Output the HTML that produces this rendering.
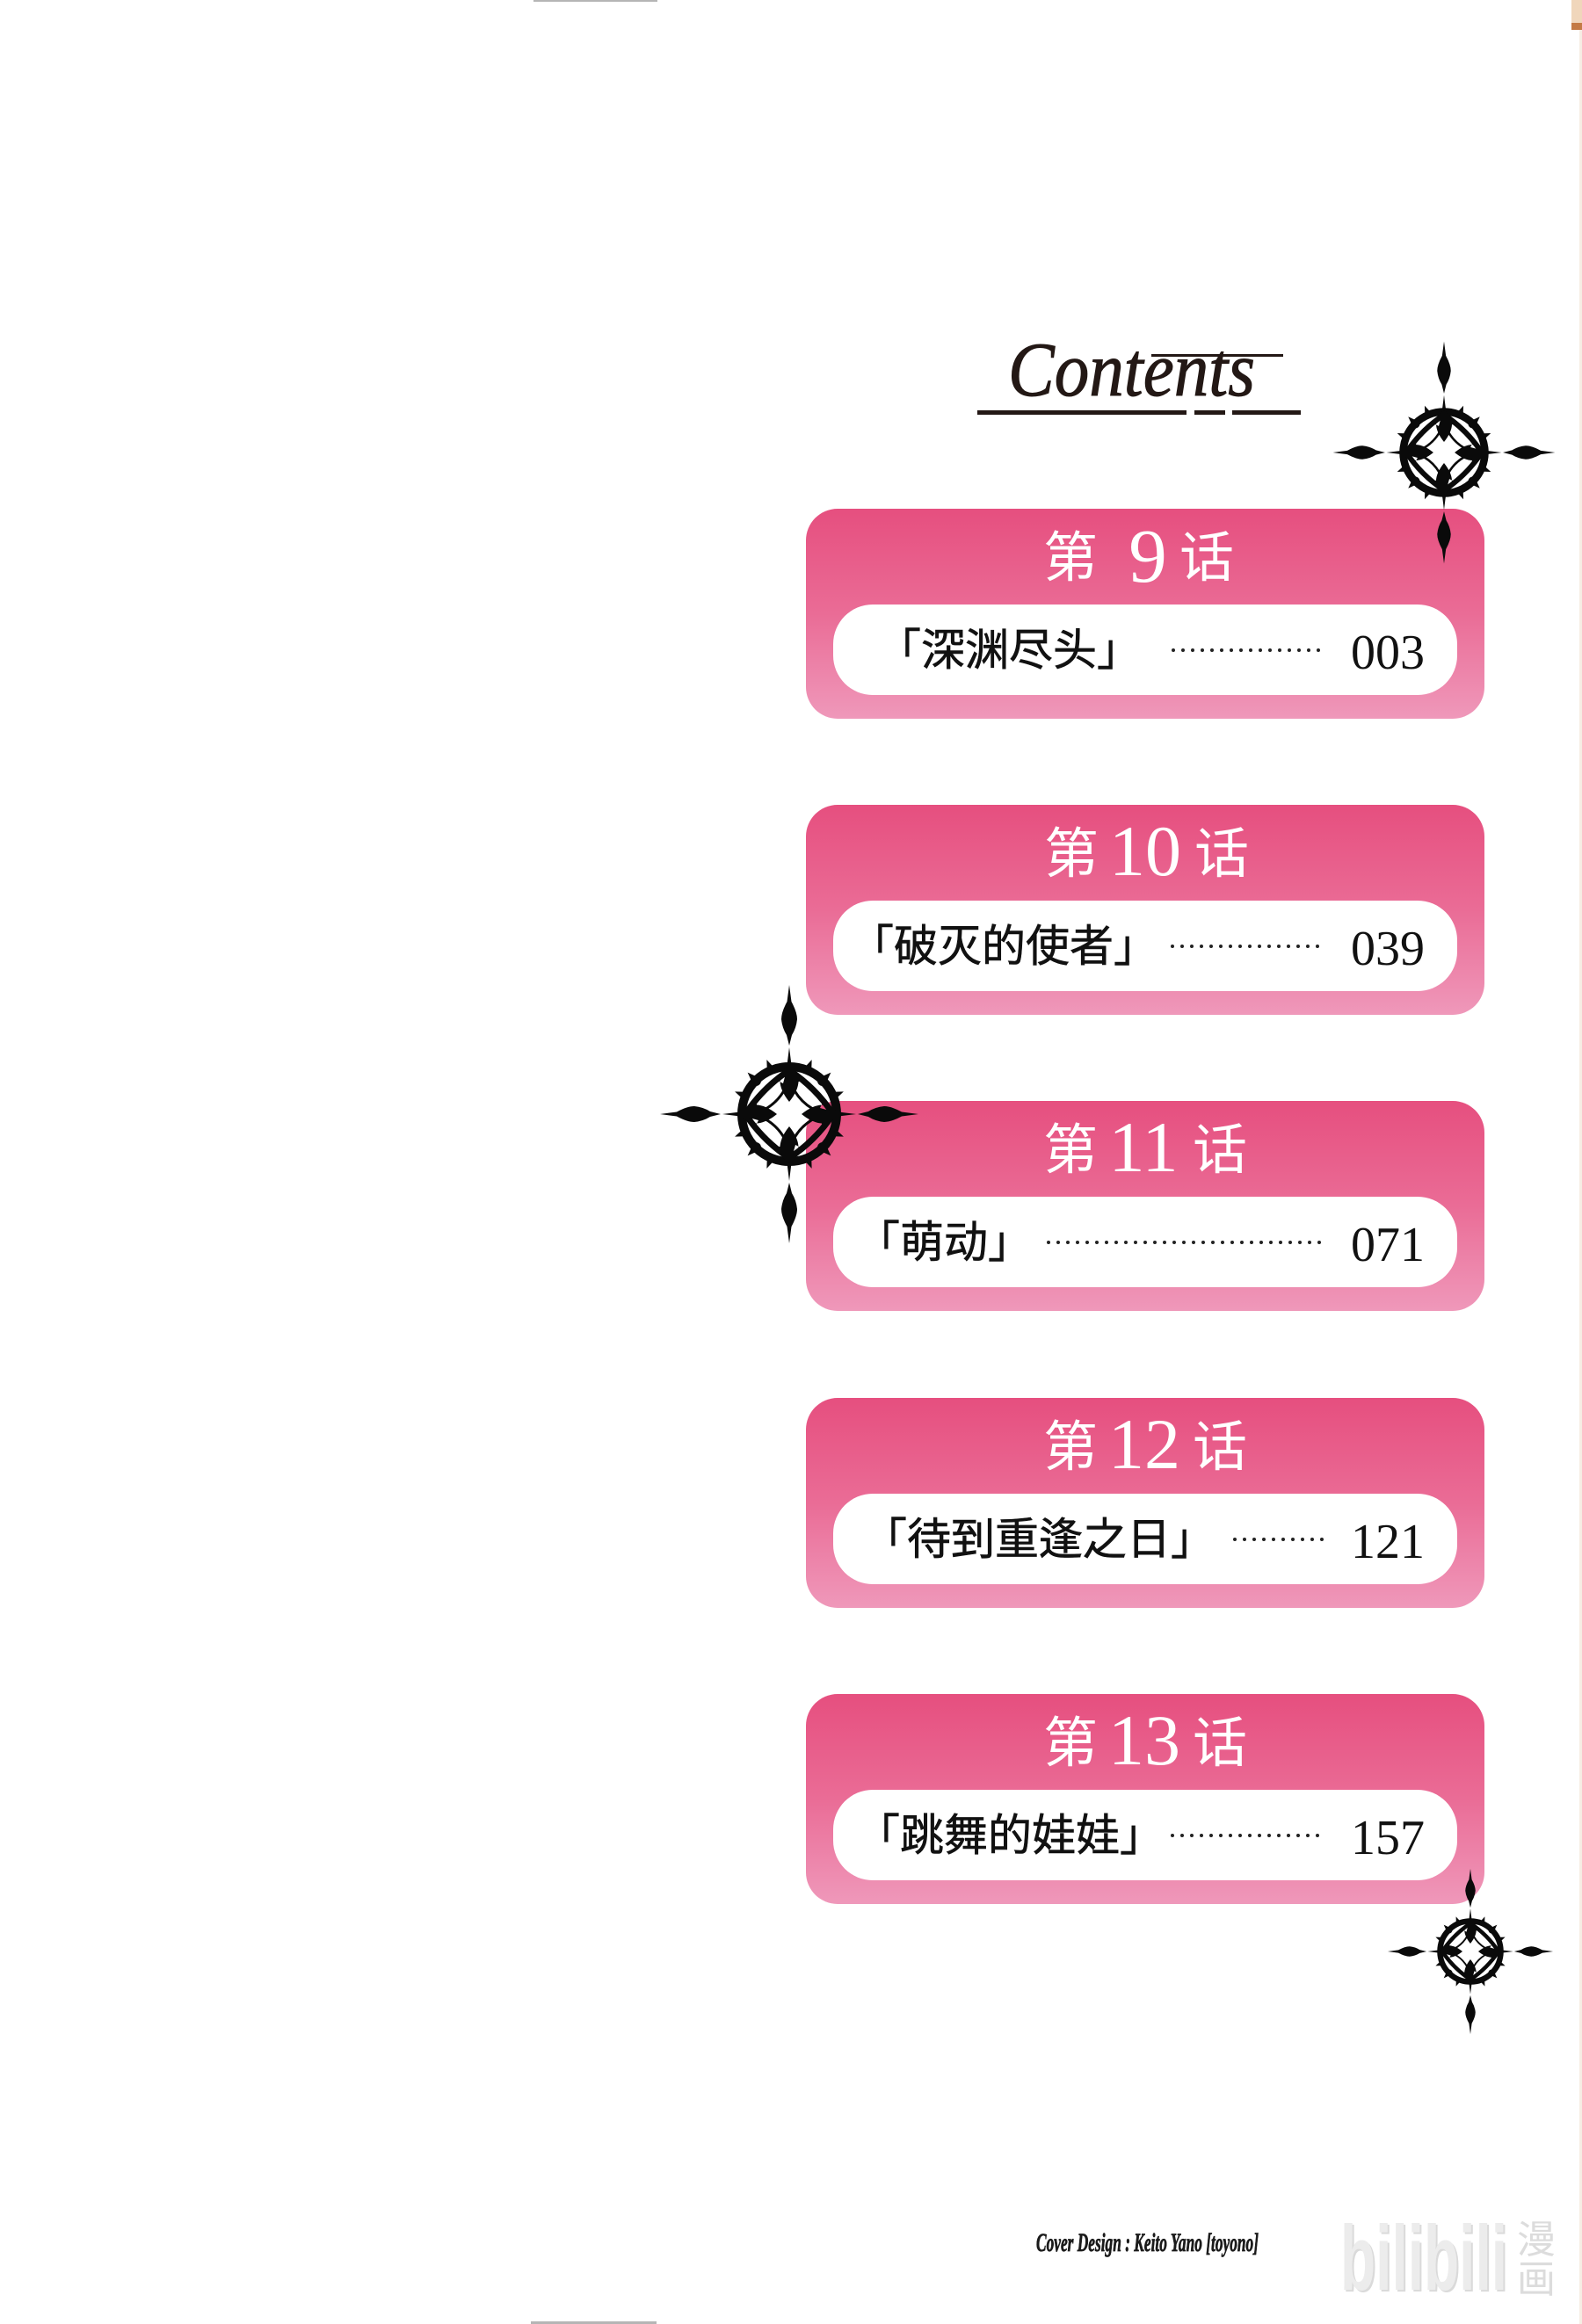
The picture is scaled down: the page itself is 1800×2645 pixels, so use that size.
<!DOCTYPE html>
<html>
<head>
<meta charset="utf-8">
<style>
html,body{margin:0;padding:0;background:#fff;}
svg{display:block;}
.ttl{font-family:"Noto Sans CJK SC","Noto Sans CJK JP",sans-serif;font-size:62px;fill:#fff;}
.num{font-family:"Liberation Serif",serif;font-size:82px;fill:#fff;}
.sub{font-family:"Liberation Sans","Noto Sans CJK JP",sans-serif;font-size:50px;fill:#111;stroke:#111;stroke-width:0.6px;}
.pg{font-family:"Liberation Serif",serif;font-size:56px;fill:#111;}
.dots{stroke:#222;stroke-width:4;stroke-linecap:round;stroke-dasharray:0 11;}
</style>
</head>
<body>
<svg width="1800" height="2645" viewBox="0 0 1800 2645" xmlns="http://www.w3.org/2000/svg">
<defs>
  <linearGradient id="pg" x1="0" y1="0" x2="0" y2="1">
    <stop offset="0" stop-color="#e64f7f"/>
    <stop offset="0.5" stop-color="#ea6c96"/>
    <stop offset="1" stop-color="#ef98ba"/>
  </linearGradient>
  <path id="sp" d="M0,-147 L2.5,-128 Q9,-116 9,-108 Q8,-98 3,-90 L0,-78 L-3,-90 Q-8,-98 -9,-108 Q-9,-116 -2.5,-128 Z"/>
  <path id="nd" d="M0,-76 L2.5,-56 L-2.5,-56 Z"/>
  <path id="th" d="M-4.5,-55 L0,-67 L4.5,-55 Z"/>
  <path id="lf" d="M0,-56 C15,-46 13,-30 0,-14 C-13,-30 -15,-46 0,-56 Z M-4,-46 L-17,-40 L-7,-35 Z M4,-46 L17,-40 L7,-35 Z"/>
  <g id="orn" fill="#0a0a0a">
    <use href="#sp"/>
    <use href="#sp" transform="rotate(90)"/>
    <use href="#sp" transform="rotate(180)"/>
    <use href="#sp" transform="rotate(270)"/>
    <use href="#nd"/>
    <use href="#nd" transform="rotate(90)"/>
    <use href="#nd" transform="rotate(180)"/>
    <use href="#nd" transform="rotate(270)"/>
    <circle r="54" fill="none" stroke="#0a0a0a" stroke-width="10"/>
    <use href="#th" transform="rotate(22.5)"/>
    <use href="#th" transform="rotate(45)"/>
    <use href="#th" transform="rotate(67.5)"/>
    <use href="#th" transform="rotate(112.5)"/>
    <use href="#th" transform="rotate(135)"/>
    <use href="#th" transform="rotate(157.5)"/>
    <use href="#th" transform="rotate(202.5)"/>
    <use href="#th" transform="rotate(225)"/>
    <use href="#th" transform="rotate(247.5)"/>
    <use href="#th" transform="rotate(292.5)"/>
    <use href="#th" transform="rotate(315)"/>
    <use href="#th" transform="rotate(337.5)"/>
    <circle cx="38" cy="-38" r="6"/>
    <circle cx="38" cy="38" r="6"/>
    <circle cx="-38" cy="38" r="6"/>
    <circle cx="-38" cy="-38" r="6"/>
    <path d="M0,-50 Q30,-30 50,0 Q30,30 0,50 Q-30,30 -50,0 Q-30,-30 0,-50 Z" fill="none" stroke="#0a0a0a" stroke-width="7"/>
    <path d="M0,-40 Q10,-10 40,0 Q10,10 0,40 Q-10,10 -40,0 Q-10,-10 0,-40 Z" fill="none" stroke="#0a0a0a" stroke-width="3"/>
    <use href="#lf"/>
    <use href="#lf" transform="rotate(90)"/>
    <use href="#lf" transform="rotate(180)"/>
    <use href="#lf" transform="rotate(270)"/>
  </g>
</defs>

<rect x="0" y="0" width="1800" height="2645" fill="#ffffff"/>

<!-- edge marks -->
<rect x="607" y="0" width="141" height="2" fill="#b5b5b5"/>
<rect x="604" y="2642" width="143" height="3" fill="#b5b5b5"/>
<rect x="1788" y="0" width="12" height="26" fill="#f0d6bb"/>
<rect x="1788" y="26" width="12" height="8" fill="#c47a45"/>
<rect x="1797" y="34" width="3" height="2611" fill="#f6ede4"/>

<!-- Contents heading -->
<text x="1147" y="450" font-family="Liberation Serif, serif" font-style="italic" font-size="88" fill="#231815" stroke="#231815" stroke-width="1" textLength="281" lengthAdjust="spacingAndGlyphs">Contents</text>
<rect x="1310" y="403" width="150" height="3" fill="#231815"/>
<rect x="1112" y="467" width="238" height="5" fill="#231815"/>
<rect x="1359" y="467" width="35" height="5" fill="#231815"/>
<rect x="1402" y="467" width="78" height="5" fill="#231815"/>

<!-- Box 1 -->
<rect x="917" y="579" width="772" height="239" rx="36" fill="url(#pg)"/>
<rect x="948" y="688" width="710" height="103" rx="45" fill="#fff"/>
<text class="ttl" x="1187" y="656">第</text>
<text class="num" x="1306" y="662" text-anchor="middle" style="font-size:87px">9</text>
<text class="ttl" x="1342" y="656">话</text>
<text class="sub" x="998" y="757">「深渊尽头」</text>
<line class="dots" x1="1335" y1="740" x2="1505" y2="740"/>
<text class="pg" x="1621" y="761" text-anchor="end">003</text>

<!-- Box 2 -->
<rect x="917" y="916" width="772" height="239" rx="36" fill="url(#pg)"/>
<rect x="948" y="1025" width="710" height="103" rx="45" fill="#fff"/>
<text class="ttl" x="1188" y="993">第</text>
<text class="num" x="1303" y="996" text-anchor="middle">10</text>
<text class="ttl" x="1359" y="993">话</text>
<text class="sub" x="967" y="1094">「破灭的使者」</text>
<line class="dots" x1="1334" y1="1077" x2="1505" y2="1077"/>
<text class="pg" x="1621" y="1098" text-anchor="end">039</text>

<!-- Box 3 -->
<rect x="917" y="1253" width="772" height="239" rx="36" fill="url(#pg)"/>
<rect x="948" y="1362" width="710" height="103" rx="45" fill="#fff"/>
<text class="ttl" x="1187" y="1330">第</text>
<text class="num" x="1301" y="1333" text-anchor="middle">11</text>
<text class="ttl" x="1357" y="1330">话</text>
<text class="sub" x="974" y="1431">「萌动」</text>
<line class="dots" x1="1193" y1="1414" x2="1505" y2="1414"/>
<text class="pg" x="1621" y="1435" text-anchor="end">071</text>

<!-- Box 4 -->
<rect x="917" y="1591" width="772" height="239" rx="36" fill="url(#pg)"/>
<rect x="948" y="1700" width="710" height="103" rx="45" fill="#fff"/>
<text class="ttl" x="1187" y="1668">第</text>
<text class="num" x="1302" y="1671" text-anchor="middle">12</text>
<text class="ttl" x="1357" y="1668">话</text>
<text class="sub" x="982" y="1769">「待到重逢之日」</text>
<line class="dots" x1="1405" y1="1752" x2="1505" y2="1752"/>
<text class="pg" x="1621" y="1773" text-anchor="end">121</text>

<!-- Box 5 -->
<rect x="917" y="1928" width="772" height="239" rx="36" fill="url(#pg)"/>
<rect x="948" y="2037" width="710" height="103" rx="45" fill="#fff"/>
<text class="ttl" x="1187" y="2005">第</text>
<text class="num" x="1302" y="2008" text-anchor="middle">13</text>
<text class="ttl" x="1357" y="2005">话</text>
<text class="sub" x="974" y="2106">「跳舞的娃娃」</text>
<line class="dots" x1="1334" y1="2089" x2="1505" y2="2089"/>
<text class="pg" x="1621" y="2110" text-anchor="end">157</text>

<!-- Ornaments -->
<use href="#orn" transform="translate(1643,515) scale(0.86)"/>
<use href="#orn" transform="translate(898,1268)"/>
<use href="#orn" transform="translate(1673,2221) scale(0.64)"/>

<!-- Credits -->
<text x="1179" y="2562" font-family="Liberation Serif, serif" font-style="italic" font-weight="bold" font-size="30" fill="#1a1a1a" stroke="#1a1a1a" stroke-width="0.8" textLength="253" lengthAdjust="spacingAndGlyphs">Cover Design : Keito Yano [toyono]</text>

<!-- Watermark -->
<text x="1527" y="2608" font-family="Liberation Sans, sans-serif" font-weight="bold" font-size="105" fill="#dadada" textLength="190" lengthAdjust="spacingAndGlyphs">bilibili</text>
<text x="1525" y="2606" font-family="Liberation Sans, sans-serif" font-weight="bold" font-size="105" fill="#ececec" textLength="190" lengthAdjust="spacingAndGlyphs">bilibili</text>
<text x="1726" y="2564" font-family="Liberation Sans, 'Noto Sans CJK SC', sans-serif" font-size="44" fill="#dcdcdc">漫</text>
<text x="1726" y="2609" font-family="Liberation Sans, 'Noto Sans CJK SC', sans-serif" font-size="44" fill="#dcdcdc">画</text>
</svg>
</body>
</html>
